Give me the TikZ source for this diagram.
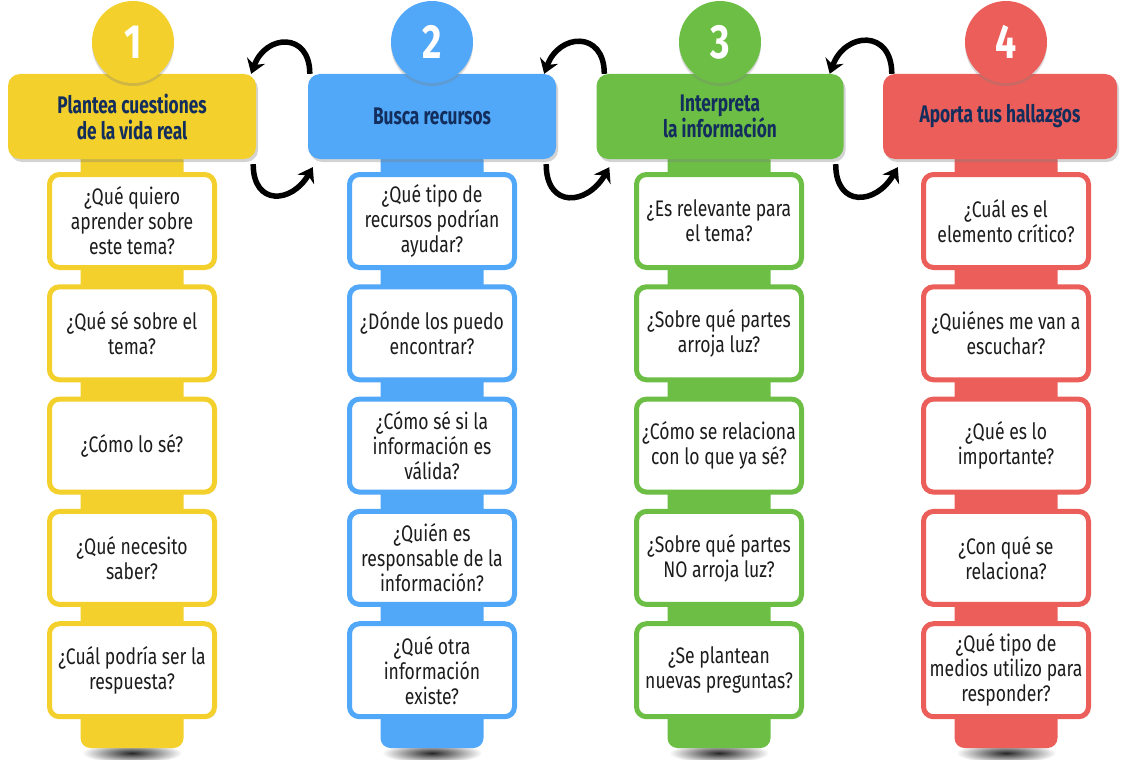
\documentclass[tikz,border=0pt]{standalone}
\usepackage{fontspec}
\setmainfont{Fira Sans}[FakeStretch=0.78]
\newfontfamily\headfam{Fira Sans}[FakeStretch=0.72]
\usepackage{tikz}
\usetikzlibrary{shadows}
\usetikzlibrary{arrows.meta}
\definecolor{MyYellow}{RGB}{243,208,43}
\definecolor{MyBlue}{RGB}{81,167,248}
\definecolor{MyGreen}{RGB}{108,191,68}
\definecolor{MyRed}{RGB}{235,94,89}
\definecolor{MyNavy}{RGB}{19,46,92}
\definecolor{MyInk}{RGB}{28,28,28}
\newcommand{\qfont}{\fontsize{22.5}{25}\selectfont}
\newcommand{\hfont}{\headfam\bfseries\fontsize{24}{26}\selectfont}
\newcommand{\nfont}{\bfseries\fontsize{48}{48}\selectfont}

\begin{document}
\begin{tikzpicture}[x=1pt, y=-1pt,
    header/.style={rectangle, fill=#1, rounded corners=12pt, minimum height=85pt,
      align=center, text=MyNavy, font=\hfont,
      drop shadow={opacity=.35, shadow xshift=2pt, shadow yshift=-3pt}},
    numdisc/.style={circle, fill=#1, minimum size=82pt, inner sep=0pt, text=white, font=\nfont,
      drop shadow={opacity=.3, shadow xshift=0pt, shadow yshift=-3pt}},
    qbox/.style={rectangle, draw=#1, line width=5pt, fill=white, rounded corners=10pt,
      minimum width=165pt, minimum height=93pt, align=center, text=MyInk, font=\qfont,
      drop shadow={opacity=.3, shadow xshift=2pt, shadow yshift=-2pt}},
    cyclearrow/.style={line width=5.5pt, -{Stealth[length=14pt, width=19pt]}}]
    \useasboundingbox (0,0) rectangle (1122,760);
    % strips behind the questions
    \foreach \cx/\col in {132/MyYellow, 432/MyBlue, 719/MyGreen, 1006/MyRed}{
      \shade[inner color=black!85, outer color=white] (\cx,753) ellipse (50 and 10);
      \fill[\col, rounded corners=10pt] (\cx-51.5,150) rectangle (\cx+51.5,748);
    }
    % headers
    \node[header=MyYellow, minimum width=248pt] (h1) at (132,116.5) {Plantea cuestiones\\de la vida real};
    \node[header=MyBlue, minimum width=248pt] (h2) at (432,116.5) {Busca recursos};
    \node[header=MyGreen, minimum width=247pt] (h3) at (720,116.5) {Interpreta\\la información};
    \node[header=MyRed, minimum width=234pt] (h4) at (1000,116.5) {Aporta tus hallazgos};
    % numbers
    \node[numdisc=MyYellow] (n1) at (133,42) {1};
    \node[numdisc=MyBlue] (n2) at (432,42) {2};
    \node[numdisc=MyGreen] (n3) at (720,42) {3};
    \node[numdisc=MyRed] (n4) at (1006,42) {4};
    % questions
    \foreach \q [count=\j] in {{¿Qué quiero\\aprender sobre\\este tema?}, {¿Qué sé sobre el\\tema?},
        {¿Cómo lo sé?}, {¿Qué necesito\\saber?}, {¿Cuál podría ser la\\respuesta?}}
      \node[qbox=MyYellow] (a\j) at (132,{221+112.3*(\j-1)}) {\q};
    \foreach \q [count=\j] in {{¿Qué tipo de\\recursos podrían\\ayudar?}, {¿Dónde los puedo\\encontrar?},
        {¿Cómo sé si la\\información es\\válida?}, {¿Quién es\\responsable de la\\información?},
        {¿Qué otra\\información\\existe?}}
      \node[qbox=MyBlue] (b\j) at (432,{221+112.3*(\j-1)}) {\q};
    \foreach \q [count=\j] in {{¿Es relevante para\\el tema?}, {¿Sobre qué partes\\arroja luz?},
        {¿Cómo se relaciona\\con lo que ya sé?}, {¿Sobre qué partes\\NO arroja luz?},
        {¿Se plantean\\nuevas preguntas?}}
      \node[qbox=MyGreen] (c\j) at (719,{221+112.3*(\j-1)}) {\q};
    \foreach \q [count=\j] in {{¿Cuál es el\\elemento crítico?}, {¿Quiénes me van a\\escuchar?},
        {¿Qué es lo\\importante?}, {¿Con qué se\\relaciona?},
        {¿Qué tipo de\\medios utilizo para\\responder?}}
      \node[qbox=MyRed] (d\j) at (1006,{221+112.3*(\j-1)}) {\q};
    % back and forth arrows
    \foreach \l/\r/\ua/\ub/\la/\lb in {h1/h2/-5/2/-3/5, h2/h3/-12/8/-10/13, h3/h4/-14/9/-8/15}{
      \draw[cyclearrow] ([xshift=\ub pt]\r.north west) to[out=90, in=70, looseness=1.85] ([xshift=\ua pt]\l.north east);
      \draw[cyclearrow] ([xshift=\la pt, yshift=-5pt]\l.south east) to[out=-90, in=-120, looseness=1.8] ([xshift=\lb pt, yshift=-8pt]\r.south west);
    }
\end{tikzpicture}
\end{document}
